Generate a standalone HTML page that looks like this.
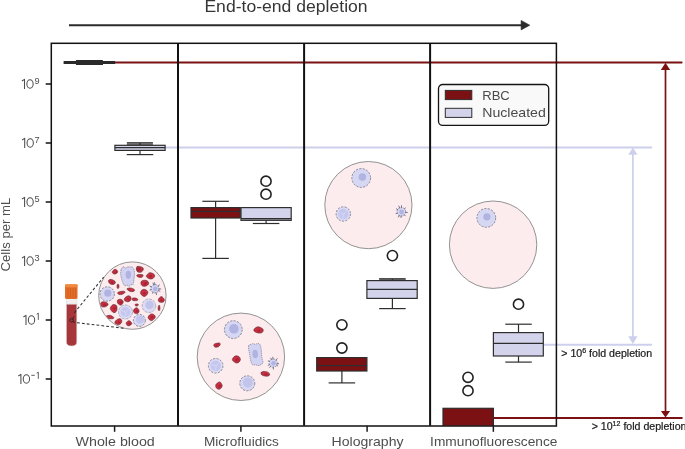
<!DOCTYPE html>
<html><head><meta charset="utf-8"><title>End-to-end depletion</title>
<style>
html,body{margin:0;padding:0;background:#fff;width:685px;height:449px;overflow:hidden}
svg{display:block;will-change:transform}
text{font-family:"Liberation Sans",sans-serif}
</style></head><body>
<svg width="685" height="449" viewBox="0 0 685 449">
<text x="204.4" y="12.3" font-size="15.7" fill="#363636" textLength="163.2" lengthAdjust="spacingAndGlyphs">End-to-end depletion</text>
<line x1="69" y1="25.15" x2="522" y2="25.15" stroke="#2b2b2b" stroke-width="2"/>
<polygon points="521.1,20.4 529.8,25.15 521.1,29.9" fill="#2b2b2b" stroke="#2b2b2b" stroke-width="0.6" stroke-linejoin="round"/>
<circle cx="132.4" cy="295.6" r="33.7" fill="#fdeced" stroke="#878787" stroke-width="0.9"/>
<clipPath id="cwb"><circle cx="132.4" cy="295.6" r="33.3"/></clipPath><g clip-path="url(#cwb)">
<path d="M117.43,270.89 Q117.94,271.69 117.44,272.50 Q116.95,273.31 116.01,273.72 Q115.07,274.13 114.08,273.95 Q113.09,273.76 112.50,272.95 Q111.91,272.13 112.41,271.34 Q112.91,270.54 113.96,269.78 Q115.02,269.01 115.97,269.55 Q116.93,270.09 117.43,270.89Z" fill="#c82f40" stroke="#5a2630" stroke-width="0.6"/>
<path d="M116.84,271.54 Q117.38,272.15 116.78,272.58 Q116.17,273.01 115.50,272.87 Q114.83,272.73 114.52,272.37 Q114.21,272.00 114.52,271.70 Q114.82,271.41 115.56,271.17 Q116.29,270.92 116.84,271.54Z" fill="#a21f30" opacity="0.8"/>
<path d="M115.44,282.31 Q115.52,283.20 114.45,283.98 Q113.38,284.75 112.13,284.48 Q110.88,284.21 109.99,283.70 Q109.10,283.20 108.66,281.94 Q108.23,280.68 108.89,279.99 Q109.55,279.30 111.03,279.51 Q112.52,279.71 113.94,280.56 Q115.36,281.41 115.44,282.31Z" fill="#c82f40" stroke="#5a2630" stroke-width="0.6"/>
<path d="M113.49,282.26 Q113.84,282.93 113.24,283.46 Q112.64,284.00 111.82,283.47 Q111.00,282.95 110.95,282.38 Q110.90,281.82 111.22,281.36 Q111.53,280.90 112.34,281.24 Q113.14,281.59 113.49,282.26Z" fill="#a21f30" opacity="0.8"/>
<path d="M118.91,285.37 Q119.12,286.17 118.92,287.21 Q118.71,288.25 118.30,288.41 Q117.89,288.56 117.53,288.30 Q117.17,288.04 117.06,287.25 Q116.95,286.45 117.08,285.45 Q117.21,284.45 117.60,284.28 Q117.99,284.11 118.35,284.35 Q118.70,284.58 118.91,285.37Z" fill="#c82f40" stroke="#5a2630" stroke-width="0.6"/>
<path d="M124.71,291.58 Q125.63,292.17 124.54,292.92 Q123.45,293.67 122.45,294.16 Q121.45,294.64 120.20,294.62 Q118.95,294.61 118.36,294.11 Q117.77,293.61 117.59,293.00 Q117.41,292.39 118.88,291.94 Q120.35,291.49 122.07,291.23 Q123.79,290.98 124.71,291.58Z" fill="#c82f40" stroke="#5a2630" stroke-width="0.6"/>
<path d="M134.25,289.51 Q134.78,290.20 134.27,290.96 Q133.76,291.72 131.90,291.62 Q130.04,291.51 129.08,290.92 Q128.12,290.34 127.23,289.53 Q126.34,288.72 127.72,288.34 Q129.11,287.96 130.00,287.97 Q130.89,287.97 132.31,288.39 Q133.72,288.81 134.25,289.51Z" fill="#c82f40" stroke="#5a2630" stroke-width="0.6"/>
<path d="M131.04,297.84 Q131.09,298.98 130.86,299.84 Q130.63,300.70 129.29,301.41 Q127.95,302.12 126.31,301.53 Q124.68,300.94 124.33,299.91 Q123.99,298.88 124.89,297.93 Q125.80,296.98 127.04,296.21 Q128.28,295.44 129.63,296.08 Q130.99,296.71 131.04,297.84Z" fill="#c82f40" stroke="#5a2630" stroke-width="0.6"/>
<path d="M129.21,298.66 Q129.74,299.16 129.50,299.79 Q129.26,300.42 128.50,300.29 Q127.74,300.17 127.32,299.73 Q126.90,299.30 127.23,298.81 Q127.55,298.33 128.11,298.25 Q128.67,298.16 129.21,298.66Z" fill="#a21f30" opacity="0.8"/>
<path d="M137.24,298.79 Q137.95,299.22 137.92,299.85 Q137.89,300.48 136.30,300.61 Q134.70,300.75 133.72,300.63 Q132.74,300.52 132.35,299.98 Q131.95,299.45 132.11,298.70 Q132.27,297.94 133.52,297.89 Q134.77,297.84 135.65,298.10 Q136.53,298.36 137.24,298.79Z" fill="#c82f40" stroke="#5a2630" stroke-width="0.6"/>
<path d="M123.07,301.10 Q123.59,302.08 122.94,303.11 Q122.30,304.15 121.60,304.87 Q120.91,305.60 119.49,304.78 Q118.07,303.95 117.71,303.06 Q117.35,302.17 117.30,300.95 Q117.26,299.73 118.99,299.40 Q120.73,299.08 121.64,299.60 Q122.56,300.12 123.07,301.10Z" fill="#c82f40" stroke="#5a2630" stroke-width="0.6"/>
<path d="M122.19,301.81 Q122.60,302.35 122.12,303.09 Q121.64,303.83 120.86,303.65 Q120.08,303.47 119.34,302.91 Q118.59,302.34 119.25,301.71 Q119.91,301.08 120.85,301.18 Q121.79,301.28 122.19,301.81Z" fill="#a21f30" opacity="0.8"/>
<path d="M107.71,303.39 Q108.62,304.26 107.76,305.18 Q106.91,306.10 105.93,306.61 Q104.94,307.13 103.19,307.00 Q101.44,306.87 100.88,305.49 Q100.33,304.11 100.84,302.92 Q101.34,301.74 103.14,301.75 Q104.94,301.77 105.88,302.14 Q106.81,302.52 107.71,303.39Z" fill="#c82f40" stroke="#5a2630" stroke-width="0.6"/>
<path d="M106.24,304.14 Q106.35,304.70 106.12,305.47 Q105.90,306.24 104.80,306.04 Q103.71,305.85 103.14,305.29 Q102.57,304.73 103.06,304.19 Q103.55,303.65 104.84,303.62 Q106.13,303.58 106.24,304.14Z" fill="#a21f30" opacity="0.8"/>
<path d="M116.95,306.82 Q117.12,308.53 116.91,309.96 Q116.69,311.38 115.34,312.30 Q113.99,313.21 112.61,312.00 Q111.22,310.78 110.53,309.57 Q109.84,308.36 110.86,306.81 Q111.88,305.27 112.68,304.82 Q113.48,304.37 115.12,304.74 Q116.77,305.10 116.95,306.82Z" fill="#c82f40" stroke="#5a2630" stroke-width="0.6"/>
<path d="M115.58,307.28 Q116.00,308.24 115.41,309.40 Q114.81,310.55 114.15,310.45 Q113.48,310.34 113.31,309.50 Q113.14,308.66 113.36,307.56 Q113.59,306.46 114.38,306.39 Q115.17,306.31 115.58,307.28Z" fill="#a21f30" opacity="0.8"/>
<path d="M138.37,304.54 Q138.63,304.97 138.14,305.37 Q137.64,305.77 137.23,305.89 Q136.81,306.02 136.19,305.95 Q135.57,305.88 135.32,305.48 Q135.08,305.08 135.13,304.63 Q135.17,304.19 135.90,304.04 Q136.63,303.90 137.37,304.00 Q138.11,304.10 138.37,304.54Z" fill="#c82f40" stroke="#5a2630" stroke-width="0.6"/>
<path d="M138.78,309.70 Q139.47,310.91 138.84,312.16 Q138.20,313.41 137.19,313.56 Q136.18,313.71 135.34,313.41 Q134.50,313.11 133.80,312.33 Q133.10,311.56 133.58,310.22 Q134.06,308.89 135.23,308.23 Q136.39,307.57 137.24,308.03 Q138.09,308.49 138.78,309.70Z" fill="#c82f40" stroke="#5a2630" stroke-width="0.6"/>
<path d="M137.70,310.73 Q138.07,311.33 137.73,311.94 Q137.38,312.55 136.75,312.52 Q136.13,312.48 135.73,311.83 Q135.34,311.18 135.62,310.47 Q135.90,309.77 136.61,309.95 Q137.33,310.13 137.70,310.73Z" fill="#a21f30" opacity="0.8"/>
<path d="M113.52,317.17 Q114.16,317.74 113.57,318.28 Q112.98,318.82 111.40,318.80 Q109.82,318.79 108.10,318.40 Q106.37,318.01 105.80,317.16 Q105.24,316.31 106.56,315.95 Q107.88,315.58 109.12,315.37 Q110.36,315.15 111.62,315.87 Q112.88,316.59 113.52,317.17Z" fill="#c82f40" stroke="#5a2630" stroke-width="0.6"/>
<path d="M121.65,320.33 Q122.03,321.48 121.56,322.44 Q121.08,323.39 120.04,324.14 Q119.00,324.88 117.14,324.43 Q115.27,323.97 114.92,323.05 Q114.57,322.13 115.48,321.04 Q116.40,319.95 117.70,319.16 Q119.00,318.37 120.13,318.77 Q121.27,319.17 121.65,320.33Z" fill="#c82f40" stroke="#5a2630" stroke-width="0.6"/>
<path d="M120.04,321.69 Q120.52,322.06 120.07,322.81 Q119.62,323.56 118.94,323.40 Q118.26,323.25 117.84,322.67 Q117.42,322.09 117.74,321.62 Q118.06,321.15 118.80,321.24 Q119.55,321.33 120.04,321.69Z" fill="#a21f30" opacity="0.8"/>
<path d="M131.39,322.38 Q131.99,323.24 131.66,323.95 Q131.34,324.67 130.21,325.26 Q129.09,325.84 128.11,325.77 Q127.12,325.69 126.47,324.31 Q125.82,322.93 126.49,322.33 Q127.17,321.72 127.96,321.01 Q128.76,320.30 129.78,320.91 Q130.80,321.51 131.39,322.38Z" fill="#c82f40" stroke="#5a2630" stroke-width="0.6"/>
<path d="M130.74,323.01 Q131.20,323.47 130.63,323.94 Q130.06,324.42 129.50,324.64 Q128.95,324.85 128.55,324.16 Q128.16,323.47 128.60,323.14 Q129.03,322.81 129.65,322.68 Q130.27,322.55 130.74,323.01Z" fill="#a21f30" opacity="0.8"/>
<path d="M142.88,267.78 Q143.84,268.53 143.10,270.06 Q142.37,271.58 141.24,272.07 Q140.12,272.55 138.59,272.20 Q137.06,271.85 136.63,270.44 Q136.19,269.04 136.41,267.70 Q136.64,266.36 138.01,266.35 Q139.38,266.34 140.65,266.68 Q141.92,267.03 142.88,267.78Z" fill="#c82f40" stroke="#5a2630" stroke-width="0.6"/>
<path d="M140.92,268.79 Q141.30,269.17 141.06,269.69 Q140.82,270.22 140.09,270.31 Q139.35,270.41 138.96,269.81 Q138.57,269.20 138.96,268.76 Q139.34,268.31 139.94,268.36 Q140.54,268.41 140.92,268.79Z" fill="#a21f30" opacity="0.8"/>
<path d="M143.08,275.33 Q142.93,275.91 142.68,276.56 Q142.44,277.21 141.39,277.38 Q140.34,277.55 138.95,277.18 Q137.57,276.80 137.02,276.33 Q136.47,275.85 136.78,275.30 Q137.08,274.74 138.48,274.59 Q139.88,274.43 141.56,274.59 Q143.24,274.75 143.08,275.33Z" fill="#c82f40" stroke="#5a2630" stroke-width="0.6"/>
<path d="M154.43,274.79 Q155.05,275.82 154.14,277.24 Q153.23,278.66 151.82,278.90 Q150.41,279.15 149.27,278.71 Q148.13,278.28 146.93,277.37 Q145.73,276.47 146.64,275.29 Q147.55,274.10 148.63,273.16 Q149.71,272.21 151.76,272.99 Q153.80,273.76 154.43,274.79Z" fill="#c82f40" stroke="#5a2630" stroke-width="0.6"/>
<path d="M152.02,275.39 Q152.29,276.22 152.01,276.87 Q151.72,277.53 150.84,277.58 Q149.95,277.64 149.12,277.04 Q148.29,276.44 149.13,275.65 Q149.98,274.86 150.86,274.71 Q151.75,274.56 152.02,275.39Z" fill="#a21f30" opacity="0.8"/>
<path d="M148.14,281.69 Q148.92,282.80 148.53,283.93 Q148.13,285.06 146.43,285.85 Q144.73,286.64 143.28,286.22 Q141.82,285.80 141.26,284.64 Q140.69,283.49 141.00,282.17 Q141.31,280.85 142.76,280.47 Q144.20,280.08 145.78,280.33 Q147.36,280.57 148.14,281.69Z" fill="#c82f40" stroke="#5a2630" stroke-width="0.6"/>
<path d="M146.74,282.58 Q147.15,283.34 146.60,284.13 Q146.06,284.92 144.89,284.94 Q143.73,284.97 143.51,284.16 Q143.30,283.35 143.90,282.72 Q144.51,282.10 145.42,281.96 Q146.32,281.82 146.74,282.58Z" fill="#a21f30" opacity="0.8"/>
<path d="M147.71,291.43 Q148.29,292.38 147.43,294.03 Q146.57,295.67 145.24,296.17 Q143.91,296.67 142.91,296.11 Q141.90,295.54 140.98,294.22 Q140.07,292.90 140.82,291.44 Q141.57,289.98 142.94,289.50 Q144.31,289.01 145.71,289.75 Q147.12,290.48 147.71,291.43Z" fill="#c82f40" stroke="#5a2630" stroke-width="0.6"/>
<path d="M145.47,292.70 Q145.77,293.11 145.63,293.71 Q145.49,294.32 144.66,294.59 Q143.82,294.87 143.33,294.02 Q142.84,293.17 143.29,292.44 Q143.75,291.72 144.46,292.00 Q145.17,292.28 145.47,292.70Z" fill="#a21f30" opacity="0.8"/>
<path d="M164.07,299.00 Q164.78,300.21 164.14,301.18 Q163.51,302.15 162.24,302.32 Q160.97,302.49 159.89,302.12 Q158.81,301.75 158.45,301.01 Q158.08,300.26 158.62,299.04 Q159.15,297.81 160.27,297.00 Q161.39,296.18 162.37,296.98 Q163.36,297.78 164.07,299.00Z" fill="#c82f40" stroke="#5a2630" stroke-width="0.6"/>
<path d="M162.62,299.77 Q163.18,300.19 162.69,300.88 Q162.19,301.56 161.54,301.33 Q160.89,301.09 160.56,300.71 Q160.22,300.33 160.57,299.70 Q160.92,299.08 161.49,299.21 Q162.05,299.35 162.62,299.77Z" fill="#a21f30" opacity="0.8"/>
<path d="M159.83,306.83 Q160.01,307.77 159.91,309.05 Q159.81,310.34 159.38,310.50 Q158.95,310.66 158.58,310.35 Q158.22,310.04 158.13,309.08 Q158.05,308.12 158.22,307.14 Q158.39,306.17 158.79,305.51 Q159.19,304.85 159.42,305.37 Q159.66,305.89 159.83,306.83Z" fill="#c82f40" stroke="#5a2630" stroke-width="0.6"/>
<path d="M155.09,316.06 Q155.70,317.38 154.74,318.25 Q153.77,319.12 152.77,320.03 Q151.77,320.94 150.38,320.30 Q148.98,319.66 148.36,318.51 Q147.75,317.36 148.63,316.04 Q149.52,314.72 150.64,314.18 Q151.75,313.64 153.12,314.19 Q154.49,314.75 155.09,316.06Z" fill="#c82f40" stroke="#5a2630" stroke-width="0.6"/>
<path d="M153.26,316.41 Q153.82,317.15 153.11,317.69 Q152.39,318.23 151.80,318.47 Q151.20,318.70 150.78,318.01 Q150.36,317.32 150.64,316.76 Q150.92,316.19 151.81,315.93 Q152.69,315.68 153.26,316.41Z" fill="#a21f30" opacity="0.8"/>
<path d="M139.11,268.74 Q139.42,269.12 139.11,269.81 Q138.80,270.50 138.42,270.86 Q138.04,271.21 137.72,270.78 Q137.39,270.35 137.26,269.91 Q137.13,269.46 137.32,268.73 Q137.51,268.00 137.83,267.88 Q138.15,267.77 138.48,268.07 Q138.80,268.36 139.11,268.74Z" fill="#c82f40" stroke="#5a2630" stroke-width="0.6"/>
<path d="M120.85,270.85 Q121.30,268.20 122.40,267.25 Q123.50,266.30 124.55,267.45 Q125.60,268.60 126.55,267.60 Q127.50,266.60 128.50,266.90 Q129.50,267.20 130.75,266.80 Q132.00,266.40 133.15,267.95 Q134.30,269.50 134.45,272.25 Q134.60,275.00 134.20,277.75 Q133.80,280.50 133.50,283.00 Q133.20,285.50 132.10,284.90 Q131.00,284.30 130.15,285.55 Q129.30,286.80 128.15,285.80 Q127.00,284.80 126.00,285.60 Q125.00,286.40 124.00,284.95 Q123.00,283.50 122.30,281.25 Q121.60,279.00 121.00,276.25 Q120.40,273.50 120.85,270.85Z" fill="#d2d3f2" stroke="#55556a" stroke-width="0.55" stroke-dasharray="1.3 0.8"/>
<ellipse cx="128.3" cy="274.8" rx="2.7" ry="4.1" transform="rotate(0 128.3 274.8)" fill="#b0b2e0"/>
<circle cx="107.2" cy="294.0" r="7.2" fill="#d6d7f3" stroke="#5a5a6c" stroke-width="0.65" stroke-dasharray="2.2 1.3"/>
<circle cx="107.8" cy="293.2" r="3.6" fill="#b1b3e1"/>
<circle cx="155" cy="288.7" r="4.2" fill="#d6d7f3" stroke="#5a5a6c" stroke-width="0.6" stroke-dasharray="1.6 1.2"/>
<line x1="158.89" y1="288.91" x2="160.76" y2="289.01" stroke="#77778e" stroke-width="1.0" stroke-linecap="round"/>
<line x1="158.46" y1="290.49" x2="159.89" y2="291.23" stroke="#77778e" stroke-width="1.0" stroke-linecap="round"/>
<line x1="155.99" y1="292.47" x2="156.54" y2="294.60" stroke="#77778e" stroke-width="1.0" stroke-linecap="round"/>
<line x1="153.16" y1="292.14" x2="152.54" y2="293.30" stroke="#77778e" stroke-width="1.0" stroke-linecap="round"/>
<line x1="151.22" y1="289.67" x2="149.97" y2="289.99" stroke="#77778e" stroke-width="1.0" stroke-linecap="round"/>
<line x1="151.54" y1="286.90" x2="149.94" y2="286.06" stroke="#77778e" stroke-width="1.0" stroke-linecap="round"/>
<line x1="153.73" y1="285.01" x2="153.04" y2="283.00" stroke="#77778e" stroke-width="1.0" stroke-linecap="round"/>
<line x1="154.75" y1="284.81" x2="154.61" y2="282.66" stroke="#77778e" stroke-width="1.0" stroke-linecap="round"/>
<line x1="157.98" y1="286.18" x2="159.47" y2="284.92" stroke="#77778e" stroke-width="1.0" stroke-linecap="round"/>
<circle cx="155.3" cy="288.9" r="2.3100000000000005" fill="#b1b3e1"/>
<circle cx="125.5" cy="312.0" r="7.0" fill="#dadbf5" stroke="#85859a" stroke-width="0.55" stroke-dasharray="3 1"/>
<circle cx="125.5" cy="312.0" r="5.04" fill="#c6c7ee"/>
<path d="M121.97,310.99 L126.00,312.25 L128.52,308.98 M126.00,312.25 L125.00,316.03" fill="none" stroke="#dadbf5" stroke-width="0.70" stroke-linecap="round"/>
<circle cx="148.9" cy="305.8" r="6.8" fill="#dcdcf5" stroke="#85859a" stroke-width="0.55" stroke-dasharray="3 1"/>
<circle cx="149.5" cy="305.0" r="4.2" fill="#c2c3eb"/>
<circle cx="139.4" cy="320.4" r="6.0" fill="#d8d9f4" stroke="#5a5a6c" stroke-width="0.65" stroke-dasharray="2.2 1.3"/>
<circle cx="140.0" cy="319.59999999999997" r="4.0" fill="#c4c5ec"/>
</g>
<rect x="66.2" y="298.8" width="10.8" height="6.5" fill="#f0f0f0" stroke="#d0d0d0" stroke-width="0.4"/>
<path d="M66.4,304.2 L76.8,304.2 L76.8,342 Q76.8,346 71.6,346 Q66.4,346 66.4,342 Z" fill="#a6363a" stroke="#d9d9d9" stroke-width="0.6"/>
<rect x="65" y="284.5" width="12.5" height="14.4" rx="1.3" fill="#e36d27"/>
<g stroke="#c95a1a" stroke-width="0.6"><line x1="68" y1="288" x2="68" y2="298"/><line x1="70.5" y1="288" x2="70.5" y2="298"/><line x1="73" y1="288" x2="73" y2="298"/><line x1="75.5" y1="288" x2="75.5" y2="298"/></g>
<rect x="65" y="284.3" width="12.6" height="3" rx="1" fill="#f08a40"/>
<circle cx="71.6" cy="320.3" r="1.7" fill="none" stroke="#1a1a1a" stroke-width="0.75"/>
<path d="M72.6,318.9 L74,316.5 M72.9,321.6 L75.2,322.4" fill="none" stroke="#1a1a1a" stroke-width="0.75"/>
<line x1="74.3" y1="312.8" x2="103.6" y2="277.2" stroke="#303030" stroke-width="1.05" stroke-dasharray="2.8 2.1"/>
<line x1="77" y1="322.7" x2="124" y2="328.3" stroke="#303030" stroke-width="1.05" stroke-dasharray="2.8 2.1"/>
<circle cx="240.9" cy="356.8" r="43.7" fill="#fdeced" stroke="#878787" stroke-width="0.9"/>
<path d="M262.86,329.07 Q263.57,329.86 263.02,331.34 Q262.47,332.82 260.64,333.03 Q258.81,333.24 257.26,332.77 Q255.70,332.31 254.44,331.38 Q253.18,330.45 254.27,328.94 Q255.36,327.43 257.03,326.98 Q258.71,326.52 260.42,327.40 Q262.14,328.29 262.86,329.07Z" fill="#c82f40" stroke="#5a2630" stroke-width="0.6"/>
<path d="M260.09,330.06 Q260.37,330.67 260.07,331.27 Q259.76,331.88 258.71,331.89 Q257.66,331.91 257.54,331.29 Q257.43,330.67 257.86,330.11 Q258.29,329.55 259.05,329.50 Q259.80,329.45 260.09,330.06Z" fill="#a21f30" opacity="0.8"/>
<path d="M220.11,343.40 Q220.56,344.06 219.86,345.17 Q219.15,346.28 218.22,346.76 Q217.29,347.24 216.12,347.25 Q214.96,347.27 214.50,346.72 Q214.04,346.17 213.75,345.28 Q213.45,344.38 214.92,343.83 Q216.38,343.27 218.02,343.01 Q219.66,342.74 220.11,343.40Z" fill="#c82f40" stroke="#5a2630" stroke-width="0.6"/>
<path d="M218.20,344.84 Q218.49,345.17 218.31,345.55 Q218.12,345.92 217.54,346.11 Q216.95,346.30 216.49,346.10 Q216.02,345.91 216.07,345.30 Q216.11,344.69 217.01,344.60 Q217.91,344.52 218.20,344.84Z" fill="#a21f30" opacity="0.8"/>
<path d="M240.01,357.91 Q240.74,359.39 240.04,360.81 Q239.35,362.24 238.13,362.81 Q236.91,363.38 235.20,362.54 Q233.48,361.70 232.68,360.60 Q231.88,359.50 232.95,358.01 Q234.01,356.53 235.07,356.08 Q236.13,355.64 237.71,356.04 Q239.28,356.44 240.01,357.91Z" fill="#c82f40" stroke="#5a2630" stroke-width="0.6"/>
<path d="M238.53,358.89 Q239.12,360.12 238.24,360.59 Q237.35,361.06 236.67,361.44 Q235.99,361.82 235.45,360.70 Q234.91,359.57 235.53,359.09 Q236.15,358.61 237.05,358.13 Q237.95,357.66 238.53,358.89Z" fill="#a21f30" opacity="0.8"/>
<path d="M269.47,373.75 Q270.29,375.16 268.83,375.68 Q267.38,376.19 266.38,376.19 Q265.38,376.19 263.48,375.72 Q261.59,375.26 261.08,374.03 Q260.58,372.80 261.46,372.11 Q262.35,371.41 264.02,371.44 Q265.69,371.48 267.17,371.91 Q268.66,372.34 269.47,373.75Z" fill="#c82f40" stroke="#5a2630" stroke-width="0.6"/>
<path d="M267.57,374.06 Q268.21,374.63 267.28,374.97 Q266.36,375.31 265.61,375.18 Q264.87,375.04 264.17,374.45 Q263.48,373.86 264.21,373.67 Q264.93,373.48 265.93,373.48 Q266.94,373.48 267.57,374.06Z" fill="#a21f30" opacity="0.8"/>
<path d="M221.88,384.43 Q222.53,385.58 221.90,386.81 Q221.27,388.04 220.34,388.84 Q219.42,389.63 217.73,388.94 Q216.04,388.25 215.77,386.75 Q215.51,385.25 216.07,384.31 Q216.63,383.37 218.20,382.39 Q219.76,381.41 220.49,382.35 Q221.22,383.28 221.88,384.43Z" fill="#c82f40" stroke="#5a2630" stroke-width="0.6"/>
<path d="M220.91,385.38 Q221.46,386.00 220.91,386.66 Q220.35,387.31 219.40,387.61 Q218.45,387.90 218.42,387.00 Q218.39,386.11 218.56,385.33 Q218.73,384.56 219.54,384.66 Q220.36,384.77 220.91,385.38Z" fill="#a21f30" opacity="0.8"/>
<circle cx="233.3" cy="329.6" r="8.9" fill="#d6d7f3" stroke="#5a5a6c" stroke-width="0.65" stroke-dasharray="2.2 1.3"/>
<circle cx="233.9" cy="328.8" r="4.8" fill="#b1b3e1"/>
<path d="M248.55,346.55 Q248.80,344.60 250.05,344.60 Q251.30,344.60 252.15,343.90 Q253.00,343.20 254.00,343.90 Q255.00,344.60 256.30,343.95 Q257.60,343.30 258.70,343.55 Q259.80,343.80 260.30,345.40 Q260.80,347.00 261.10,349.00 Q261.40,351.00 261.50,353.25 Q261.60,355.50 261.90,357.50 Q262.20,359.50 262.80,361.15 Q263.40,362.80 262.20,363.80 Q261.00,364.80 259.60,365.30 Q258.20,365.80 256.85,365.20 Q255.50,364.60 254.05,365.00 Q252.60,365.40 251.80,363.70 Q251.00,362.00 250.50,359.75 Q250.00,357.50 249.70,355.00 Q249.40,352.50 248.85,350.50 Q248.30,348.50 248.55,346.55Z" fill="#d2d3f2" stroke="#55556a" stroke-width="0.55" stroke-dasharray="1.3 0.8"/>
<ellipse cx="255.2" cy="354" rx="2.7" ry="4.2" transform="rotate(-5 255.2 354)" fill="#b0b2e0"/>
<circle cx="273.2" cy="363.1" r="4.2" fill="#d6d7f3" stroke="#5a5a6c" stroke-width="0.6" stroke-dasharray="1.6 1.2"/>
<line x1="277.08" y1="363.53" x2="278.66" y2="363.70" stroke="#77778e" stroke-width="1.0" stroke-linecap="round"/>
<line x1="276.52" y1="365.15" x2="277.68" y2="365.87" stroke="#77778e" stroke-width="1.0" stroke-linecap="round"/>
<line x1="273.29" y1="367.00" x2="273.34" y2="369.10" stroke="#77778e" stroke-width="1.0" stroke-linecap="round"/>
<line x1="270.75" y1="366.13" x2="269.73" y2="367.40" stroke="#77778e" stroke-width="1.0" stroke-linecap="round"/>
<line x1="269.64" y1="364.70" x2="268.20" y2="365.34" stroke="#77778e" stroke-width="1.0" stroke-linecap="round"/>
<line x1="269.64" y1="361.50" x2="268.28" y2="360.89" stroke="#77778e" stroke-width="1.0" stroke-linecap="round"/>
<line x1="271.44" y1="359.62" x2="270.74" y2="358.21" stroke="#77778e" stroke-width="1.0" stroke-linecap="round"/>
<line x1="272.94" y1="359.21" x2="272.80" y2="357.21" stroke="#77778e" stroke-width="1.0" stroke-linecap="round"/>
<line x1="275.79" y1="360.19" x2="277.20" y2="358.61" stroke="#77778e" stroke-width="1.0" stroke-linecap="round"/>
<circle cx="273.5" cy="363.3" r="2.3100000000000005" fill="#b1b3e1"/>
<circle cx="215.7" cy="365.8" r="7.3" fill="#dadbf5" stroke="#5a5a6c" stroke-width="0.65" stroke-dasharray="2.2 1.3"/>
<circle cx="215.7" cy="365.8" r="5.26" fill="#c6c7ee"/>
<path d="M212.02,364.75 L216.23,366.06 L218.85,362.65 M216.23,366.06 L215.17,370.00" fill="none" stroke="#dadbf5" stroke-width="0.73" stroke-linecap="round"/>
<circle cx="247.3" cy="383.3" r="7.5" fill="#d6d7f3" stroke="#5a5a6c" stroke-width="0.65" stroke-dasharray="2.2 1.3"/>
<circle cx="247.9" cy="382.5" r="5.0" fill="#c2c4ec"/>
<circle cx="368.4" cy="205.1" r="43.6" fill="#fdeced" stroke="#878787" stroke-width="0.9"/>
<circle cx="361.2" cy="178" r="9.4" fill="#d6d7f3" stroke="#5a5a6c" stroke-width="0.65" stroke-dasharray="2.2 1.3"/>
<circle cx="362.4" cy="177" r="3.8" fill="#b1b3e1"/>
<circle cx="343.3" cy="214" r="7.2" fill="#dadbf5" stroke="#5a5a6c" stroke-width="0.65" stroke-dasharray="2.2 1.3"/>
<circle cx="343.3" cy="214" r="5.18" fill="#c6c7ee"/>
<path d="M339.67,212.96 L343.82,214.26 L346.41,210.89 M343.82,214.26 L342.78,218.15" fill="none" stroke="#dadbf5" stroke-width="0.72" stroke-linecap="round"/>
<circle cx="401.3" cy="211.8" r="4.4" fill="#d6d7f3" stroke="#5a5a6c" stroke-width="0.6" stroke-dasharray="1.6 1.2"/>
<line x1="405.37" y1="212.32" x2="407.39" y2="212.57" stroke="#77778e" stroke-width="1.0" stroke-linecap="round"/>
<line x1="404.19" y1="214.71" x2="405.32" y2="215.86" stroke="#77778e" stroke-width="1.0" stroke-linecap="round"/>
<line x1="401.07" y1="215.89" x2="400.98" y2="217.49" stroke="#77778e" stroke-width="1.0" stroke-linecap="round"/>
<line x1="399.32" y1="215.39" x2="398.42" y2="217.03" stroke="#77778e" stroke-width="1.0" stroke-linecap="round"/>
<line x1="397.42" y1="213.13" x2="396.01" y2="213.62" stroke="#77778e" stroke-width="1.0" stroke-linecap="round"/>
<line x1="397.79" y1="209.68" x2="396.42" y2="208.85" stroke="#77778e" stroke-width="1.0" stroke-linecap="round"/>
<line x1="399.69" y1="208.03" x2="398.85" y2="206.07" stroke="#77778e" stroke-width="1.0" stroke-linecap="round"/>
<line x1="401.46" y1="207.70" x2="401.54" y2="205.72" stroke="#77778e" stroke-width="1.0" stroke-linecap="round"/>
<line x1="404.34" y1="209.05" x2="405.56" y2="207.94" stroke="#77778e" stroke-width="1.0" stroke-linecap="round"/>
<circle cx="401.6" cy="212.0" r="2.4200000000000004" fill="#b1b3e1"/>
<circle cx="493.1" cy="244.7" r="43.7" fill="#fdeced" stroke="#878787" stroke-width="0.9"/>
<circle cx="486.3" cy="217.9" r="9.4" fill="#d6d7f3" stroke="#5a5a6c" stroke-width="0.65" stroke-dasharray="2.2 1.3"/>
<circle cx="486.90000000000003" cy="216.8" r="3.6" fill="#b1b3e1"/>
<line x1="115" y1="62.5" x2="681.6" y2="62.5" stroke="#7b1113" stroke-width="2" stroke-linecap="round"/>
<line x1="165.7" y1="147.4" x2="651.2" y2="147.4" stroke="#cdcfec" stroke-width="2" stroke-linecap="round"/>
<line x1="543.7" y1="344.8" x2="651.2" y2="344.8" stroke="#cdcfec" stroke-width="2" stroke-linecap="round"/>
<line x1="493.6" y1="417.9" x2="681.8" y2="417.9" stroke="#7b1113" stroke-width="2" stroke-linecap="round"/>
<line x1="665.5" y1="68" x2="665.5" y2="412" stroke="#7b1113" stroke-width="1.7"/>
<polygon points="665.5,62.8 660.8,69.9 670.2,69.9" fill="#7b1113"/>
<polygon points="665.5,417.4 660.9,410.9 670.1,410.9" fill="#7b1113"/>
<line x1="632.9" y1="153" x2="632.9" y2="338" stroke="#cdcfec" stroke-width="1.7"/>
<polygon points="632.9,147.6 628.3,154.7 637.5,154.7" fill="#cdcfec"/>
<polygon points="632.9,344 628.3,336.3 637.5,336.3" fill="#cdcfec"/>
<rect x="63.6" y="61" width="51.5" height="3" fill="#2a2a2a"/>
<rect x="75.9" y="60" width="27.1" height="5" rx="0.5" fill="#2a2a2a"/>
<rect x="126.9" y="142.2" width="26" height="3.2" fill="#6d6d6d"/>
<line x1="126.9" y1="142.5" x2="152.9" y2="142.5" stroke="#444" stroke-width="0.8"/>
<rect x="139.3" y="143.2" width="1.4" height="1.6" fill="#222"/>
<line x1="140" y1="150.4" x2="140" y2="154.6" stroke="#2e2e2e" stroke-width="1.2"/>
<line x1="126.75" y1="154.6" x2="153.25" y2="154.6" stroke="#2e2e2e" stroke-width="1.2"/>
<rect x="114.9" y="145.3" width="50.19999999999999" height="5.099999999999994" fill="#d3d4eb" stroke="#2e2e2e" stroke-width="1.2"/>
<line x1="114.9" y1="147.6" x2="165.1" y2="147.6" stroke="#2e2e2e" stroke-width="1.2"/>
<line x1="215.6" y1="201.3" x2="215.6" y2="207.6" stroke="#2e2e2e" stroke-width="1.2"/>
<line x1="202.35" y1="201.3" x2="228.85" y2="201.3" stroke="#2e2e2e" stroke-width="1.2"/>
<line x1="215.6" y1="218.0" x2="215.6" y2="258.4" stroke="#2e2e2e" stroke-width="1.2"/>
<line x1="202.35" y1="258.4" x2="228.85" y2="258.4" stroke="#2e2e2e" stroke-width="1.2"/>
<rect x="191" y="207.6" width="49.19999999999999" height="10.400000000000006" fill="#7b1113" stroke="#2e2e2e" stroke-width="1.2"/>
<line x1="191" y1="211.4" x2="240.2" y2="211.4" stroke="#2e2e2e" stroke-width="1.2"/>
<line x1="266.1" y1="220.4" x2="266.1" y2="223.5" stroke="#2e2e2e" stroke-width="1.2"/>
<line x1="252.85000000000002" y1="223.5" x2="279.35" y2="223.5" stroke="#2e2e2e" stroke-width="1.2"/>
<rect x="241" y="207.6" width="50.19999999999999" height="12.800000000000011" fill="#d3d4eb" stroke="#2e2e2e" stroke-width="1.2"/>
<line x1="241" y1="218.6" x2="291.2" y2="218.6" stroke="#2e2e2e" stroke-width="1.2"/>
<rect x="241.5" y="219" width="49.2" height="1.2" fill="#74747c"/>
<circle cx="266" cy="181.2" r="5.1" fill="none" stroke="#222" stroke-width="1.6"/>
<circle cx="266" cy="194.2" r="5.1" fill="none" stroke="#222" stroke-width="1.6"/>
<rect x="379.2" y="278.2" width="26.4" height="2.4" fill="#8a8a8a"/>
<line x1="392.4" y1="278.9" x2="392.4" y2="280.6" stroke="#2e2e2e" stroke-width="1.2"/>
<line x1="379.15" y1="278.9" x2="405.65" y2="278.9" stroke="#2e2e2e" stroke-width="1.2"/>
<line x1="392.4" y1="298.4" x2="392.4" y2="308.6" stroke="#2e2e2e" stroke-width="1.2"/>
<line x1="379.15" y1="308.6" x2="405.65" y2="308.6" stroke="#2e2e2e" stroke-width="1.2"/>
<rect x="366.9" y="280.6" width="50.30000000000001" height="17.799999999999955" fill="#d3d4eb" stroke="#2e2e2e" stroke-width="1.2"/>
<line x1="366.9" y1="289.4" x2="417.2" y2="289.4" stroke="#2e2e2e" stroke-width="1.2"/>
<circle cx="392.4" cy="255.6" r="5.1" fill="none" stroke="#222" stroke-width="1.6"/>
<line x1="341.9" y1="371.0" x2="341.9" y2="382.9" stroke="#2e2e2e" stroke-width="1.2"/>
<line x1="328.65" y1="382.9" x2="355.15" y2="382.9" stroke="#2e2e2e" stroke-width="1.2"/>
<rect x="316.7" y="357.6" width="50.19999999999999" height="13.399999999999977" fill="#7b1113" stroke="#2e2e2e" stroke-width="1.2"/>
<line x1="316.7" y1="365.6" x2="366.9" y2="365.6" stroke="#2e2e2e" stroke-width="1.2"/>
<circle cx="341.9" cy="324.8" r="5.1" fill="none" stroke="#222" stroke-width="1.6"/>
<circle cx="341.9" cy="348.0" r="5.1" fill="none" stroke="#222" stroke-width="1.6"/>
<line x1="518.5" y1="324.2" x2="518.5" y2="332.6" stroke="#2e2e2e" stroke-width="1.2"/>
<line x1="505.25" y1="324.2" x2="531.75" y2="324.2" stroke="#2e2e2e" stroke-width="1.2"/>
<line x1="518.5" y1="356.0" x2="518.5" y2="362.1" stroke="#2e2e2e" stroke-width="1.2"/>
<line x1="505.25" y1="362.1" x2="531.75" y2="362.1" stroke="#2e2e2e" stroke-width="1.2"/>
<rect x="493.4" y="332.6" width="49.89999999999998" height="23.399999999999977" fill="#d3d4eb" stroke="#2e2e2e" stroke-width="1.2"/>
<line x1="493.4" y1="343.4" x2="543.3" y2="343.4" stroke="#2e2e2e" stroke-width="1.2"/>
<circle cx="518.5" cy="304.2" r="5.1" fill="none" stroke="#222" stroke-width="1.6"/>
<clipPath id="cif"><rect x="430" y="40" width="130" height="385.8"/></clipPath>
<rect x="443" y="408.3" width="50.4" height="30" fill="#7b1113" stroke="#2e2e2e" stroke-width="1.2" clip-path="url(#cif)"/>
<circle cx="468" cy="377.3" r="5.1" fill="none" stroke="#222" stroke-width="1.6"/>
<circle cx="468" cy="390.7" r="5.1" fill="none" stroke="#222" stroke-width="1.6"/>
<rect x="51.3" y="43.3" width="505.1" height="382.7" fill="none" stroke="#111" stroke-width="1.5"/>
<line x1="178" y1="43.3" x2="178" y2="425.8" stroke="#111" stroke-width="2"/>
<line x1="304.1" y1="43.3" x2="304.1" y2="425.8" stroke="#111" stroke-width="2"/>
<line x1="430.1" y1="43.3" x2="430.1" y2="425.8" stroke="#111" stroke-width="2"/>
<line x1="45.7" y1="84.0" x2="51.3" y2="84.0" stroke="#111" stroke-width="1.5"/>
<ellipse cx="30.00" cy="84.00" rx="3.15" ry="4.3" fill="none" stroke="#4d4d4d" stroke-width="1.05"/>
<path d="M21.90,81.01 L24.50,79.40 L24.50,88.90" fill="none" stroke="#4d4d4d" stroke-width="1.05" stroke-linejoin="round"/>
<text x="34.40" y="84.05" fill="#4d4d4d" font-size="9.2">9</text>
<line x1="45.7" y1="143.0" x2="51.3" y2="143.0" stroke="#111" stroke-width="1.5"/>
<ellipse cx="30.20" cy="143.00" rx="3.15" ry="4.3" fill="none" stroke="#4d4d4d" stroke-width="1.05"/>
<path d="M22.10,140.01 L24.70,138.40 L24.70,147.90" fill="none" stroke="#4d4d4d" stroke-width="1.05" stroke-linejoin="round"/>
<text x="34.60" y="143.05" fill="#4d4d4d" font-size="9.2">7</text>
<line x1="45.7" y1="202.0" x2="51.3" y2="202.0" stroke="#111" stroke-width="1.5"/>
<ellipse cx="30.10" cy="202.00" rx="3.15" ry="4.3" fill="none" stroke="#4d4d4d" stroke-width="1.05"/>
<path d="M22.00,199.01 L24.60,197.40 L24.60,206.90" fill="none" stroke="#4d4d4d" stroke-width="1.05" stroke-linejoin="round"/>
<text x="34.50" y="202.05" fill="#4d4d4d" font-size="9.2">5</text>
<line x1="45.7" y1="261.0" x2="51.3" y2="261.0" stroke="#111" stroke-width="1.5"/>
<ellipse cx="30.10" cy="261.00" rx="3.15" ry="4.3" fill="none" stroke="#4d4d4d" stroke-width="1.05"/>
<path d="M22.00,258.01 L24.60,256.40 L24.60,265.90" fill="none" stroke="#4d4d4d" stroke-width="1.05" stroke-linejoin="round"/>
<text x="34.50" y="261.05" fill="#4d4d4d" font-size="9.2">3</text>
<line x1="45.7" y1="320.0" x2="51.3" y2="320.0" stroke="#111" stroke-width="1.5"/>
<ellipse cx="31.50" cy="320.00" rx="3.15" ry="4.3" fill="none" stroke="#4d4d4d" stroke-width="1.05"/>
<path d="M23.40,317.01 L26.00,315.40 L26.00,324.90" fill="none" stroke="#4d4d4d" stroke-width="1.05" stroke-linejoin="round"/>
<path d="M36.70,314.19 L38.30,313.20 L38.30,319.90" fill="none" stroke="#4d4d4d" stroke-width="0.9" stroke-linejoin="round"/>
<line x1="45.7" y1="379.0" x2="51.3" y2="379.0" stroke="#111" stroke-width="1.5"/>
<ellipse cx="26.40" cy="379.00" rx="3.15" ry="4.3" fill="none" stroke="#4d4d4d" stroke-width="1.05"/>
<path d="M18.30,376.01 L20.90,374.40 L20.90,383.90" fill="none" stroke="#4d4d4d" stroke-width="1.05" stroke-linejoin="round"/>
<line x1="31.3" y1="375.30" x2="34.8" y2="375.30" stroke="#4d4d4d" stroke-width="0.9"/>
<path d="M36.70,373.19 L38.30,372.20 L38.30,378.90" fill="none" stroke="#4d4d4d" stroke-width="0.9" stroke-linejoin="round"/>
<line x1="114.6" y1="425.8" x2="114.6" y2="431.8" stroke="#1a1a1a" stroke-width="1.5"/>
<text x="75.5" y="446.4" fill="#4e4e4e" font-size="12.9" textLength="79.3" lengthAdjust="spacingAndGlyphs">Whole blood</text>
<line x1="240.9" y1="425.8" x2="240.9" y2="431.8" stroke="#1a1a1a" stroke-width="1.5"/>
<text x="204.0" y="446.4" fill="#4e4e4e" font-size="12.9" textLength="74.9" lengthAdjust="spacingAndGlyphs">Microfluidics</text>
<line x1="367.1" y1="425.8" x2="367.1" y2="431.8" stroke="#1a1a1a" stroke-width="1.5"/>
<text x="331.6" y="446.4" fill="#4e4e4e" font-size="12.9" textLength="71.9" lengthAdjust="spacingAndGlyphs">Holography</text>
<line x1="493.35" y1="425.8" x2="493.35" y2="431.8" stroke="#1a1a1a" stroke-width="1.5"/>
<text x="430.1" y="446.4" fill="#4e4e4e" font-size="12.9" textLength="127.4" lengthAdjust="spacingAndGlyphs">Immunofluorescence</text>
<text transform="translate(10.0 271.4) rotate(-90)" fill="#505050" font-size="13.6" textLength="73.6" lengthAdjust="spacingAndGlyphs">Cells per mL</text>
<rect x="438.5" y="84.5" width="110.2" height="40.9" rx="4.2" fill="#f9f9f9" stroke="#151515" stroke-width="1.3"/>
<rect x="445.3" y="90.4" width="26.5" height="9.2" fill="#7b1113" stroke="#2e2e2e" stroke-width="1"/>
<rect x="445.3" y="108.3" width="26.5" height="9.1" fill="#d3d4eb" stroke="#2e2e2e" stroke-width="1"/>
<text x="482.2" y="99.6" fill="#4a4a4a" font-size="13" textLength="27.6" lengthAdjust="spacingAndGlyphs">RBC</text>
<text x="482.2" y="117.4" fill="#4a4a4a" font-size="13" textLength="63.6" lengthAdjust="spacingAndGlyphs">Nucleated</text>
<text transform="translate(561.3 356.5) scale(1.04 1)" fill="#1c1c1c" stroke="#1c1c1c" stroke-width="0.22" font-size="10.2">&gt; 10<tspan font-size="6.8" dy="-3.8">6</tspan><tspan dy="3.8"> fold depletion</tspan></text>
<text transform="translate(591.7 430) scale(1.04 1)" fill="#1c1c1c" stroke="#1c1c1c" stroke-width="0.22" font-size="10.2">&gt; 10<tspan font-size="6.8" dy="-3.8">12</tspan><tspan dy="3.8"> fold depletion</tspan></text>
</svg>
</body></html>
